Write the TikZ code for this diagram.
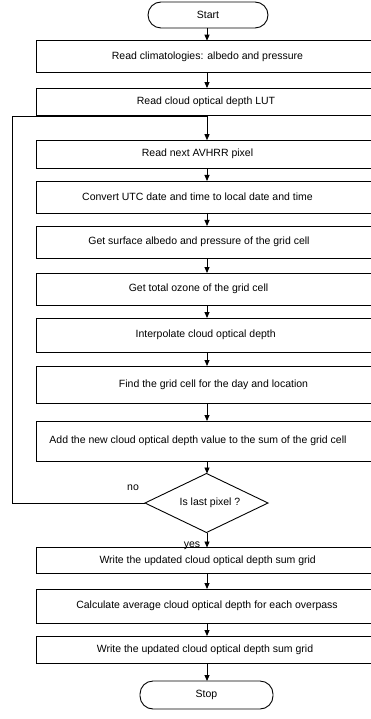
\documentclass[tikz,border=0pt]{standalone}
\usepackage{fontspec}
\setmainfont{Liberation Sans}
\usetikzlibrary{shapes.geometric,arrows.meta}
\begin{document}
\begin{tikzpicture}[x=1pt,y=-1pt,
  every node/.style={inner sep=0pt, outer sep=0pt},
  box/.style={draw, line width=0.9pt, minimum width=342pt},
  term/.style={draw, line width=0.9pt, rounded corners=13pt},
  txt/.style={font=\fontsize{10.5}{12}\selectfont},
  arr/.style={line width=0.9pt, -{Triangle[width=5pt,length=6pt]}},
  ln/.style={line width=0.9pt}]
\useasboundingbox (0,0) rectangle (371,719);
\clip (0,0) rectangle (371,719);
% terminals
\node[term, minimum width=120pt, minimum height=26pt] (start) at (208,15) {};
\node[txt] at (208,15) {Start};
\node[term, minimum width=133pt, minimum height=28pt] (stop) at (206.5,695) {};
\node[txt] at (206.5,695) {Stop};
% boxes
\node[box, minimum height=32pt] (b1) at (207,56.7) {};
\node[txt] at (207.5,56.7) {Read climatologies: albedo and pressure};
\node[box, minimum height=27.5pt] (b2) at (207,101.8) {};
\node[txt] at (206,101.8) {Read cloud optical depth LUT};
\node[box, minimum height=28pt] (b3) at (207,154.2) {};
\node[txt] at (197.5,154.2) {Read next AVHRR pixel};
\node[box, minimum height=32pt] (b4) at (207,197) {};
\node[txt] at (197.5,197) {Convert UTC date and time to local date and time};
\node[box, minimum height=32pt] (b5) at (207,242) {};
\node[txt] at (199,242) {Get surface albedo and pressure of the grid cell};
\node[box, minimum height=32pt] (b6) at (207,289) {};
\node[txt] at (198.5,289) {Get total ozone of the grid cell};
\node[box, minimum height=34pt] (b7) at (207,335) {};
\node[txt] at (205.7,335) {Interpolate cloud optical depth};
\node[box, minimum height=37pt] (b8) at (207,384.5) {};
\node[txt] at (213.5,384.5) {Find the grid cell for the day and location};
\node[box, minimum height=40pt] (b9) at (207,441) {};
\node[txt] at (198,441) {Add the new cloud optical depth value to the sum of the grid cell};
\node[draw, line width=0.9pt, diamond, minimum width=123pt, minimum height=59pt] (dia) at (206.5,503) {};
\node[txt] at (210,503) {Is last pixel ?};
\node[box, minimum height=26pt] (b10) at (207,560.5) {};
\node[txt] at (207.7,560.5) {Write the updated cloud optical depth sum grid};
\node[box, minimum height=34pt] (b11) at (207,606) {};
\node[txt] at (207,606) {Calculate average cloud optical depth for each overpass};
\node[box, minimum height=27pt] (b12) at (207,649.5) {};
\node[txt] at (205,649.5) {Write the updated cloud optical depth sum grid};
% connectors
\draw[arr] (start.south -| b1.north) -- (b1.north);
\draw[arr] (b1) -- (b2);
\draw[arr] (b2.south) -- (b3.north);
\draw[arr] (b3) -- (b4);
\draw[arr] (b4) -- (b5);
\draw[arr] (b5) -- (b6);
\draw[arr] (b6) -- (b7);
\draw[arr] (b7) -- (b8);
\draw[arr] (b8) -- (b9);
\draw[arr] (b9.south) -- (b9.south |- dia.north);
\draw[arr] (dia.south -| b10.north) -- (b10.north);
\draw[arr] (b10) -- (b11);
\draw[arr] (b11) -- (b12);
\draw[arr] (b12.south) -- (b12.south |- stop.north);
% loop
\coordinate (lc) at (12.5,116);
\coordinate (lj) at (207,116);
\draw[ln] (dia.west) -| (lc) -- (lj);
\node[txt] at (133,488) {no};
\node[txt] at (192,546) {yes};
\end{tikzpicture}
\end{document}
